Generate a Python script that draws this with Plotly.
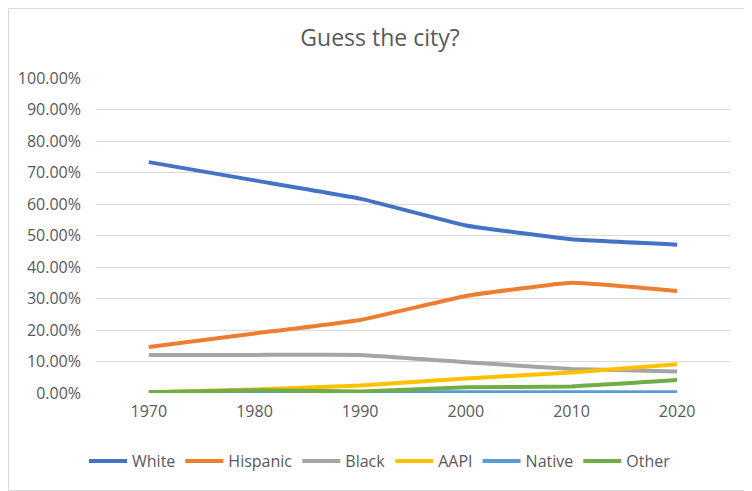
import plotly.graph_objects as go

years = ["1970", "1980", "1990", "2000", "2010", "2020"]
white = [0.733, 0.675, 0.617, 0.532, 0.488, 0.471]
hispanic = [0.146, 0.189, 0.232, 0.308, 0.350, 0.324]
black = [0.121, 0.121, 0.121, 0.098, 0.076, 0.068]
aapi = [0.002, 0.011, 0.024, 0.046, 0.065, 0.091]
native = [0.002, 0.002, 0.002, 0.002, 0.002, 0.002]
other = [0.002, 0.009, 0.005, 0.018, 0.021, 0.041]

series = [
    ("White", white, "#4472C4"),
    ("Hispanic", hispanic, "#ED7D31"),
    ("Black", black, "#A5A5A5"),
    ("AAPI", aapi, "#FFC000"),
    ("Native", native, "#5B9BD5"),
    ("Other", other, "#70AD47"),
]

FONT = "Open Sans, Noto Sans, sans-serif"

fig = go.Figure()
for name, vals, col in series:
    fig.add_trace(go.Scatter(
        x=years, y=vals, name=name, mode="lines",
        line=dict(color=col, width=4, shape="spline", smoothing=0.3),
    ))

# page body has an 8px margin, so the figure is drawn at (8, 8)
W, H = 744, 483
L, R, T, B = 88, 22, 70, 98
pw, ph = W - L - R, H - T - B

fig.update_layout(
    width=W, height=H,
    margin=dict(l=L, r=R, t=T, b=B, autoexpand=False),
    paper_bgcolor="white", plot_bgcolor="white",
    font=dict(family=FONT, color="#595959", size=16),
    title=dict(text="Guess the city?", x=0.5, xanchor="center", y=1 - 30 / H,
               yanchor="middle", font=dict(size=23, color="#595959", family=FONT)),
    showlegend=True,
    legend=dict(orientation="h", x=(372 - L) / pw, xanchor="center",
                y=(T + ph - 453) / ph, yanchor="middle",
                font=dict(size=16, color="#595959"), itemwidth=38,
                tracegroupgap=0),
    xaxis=dict(type="category", range=[-0.5, 5.5], showgrid=False,
               showline=False, ticks="", zeroline=False, ticklabelstandoff=7,
               tickfont=dict(size=16, color="#595959")),
    yaxis=dict(range=[0, 1], dtick=0.1, tickformat=".2%", showgrid=True,
               gridcolor="#D9D9D9", gridwidth=1, zeroline=False,
               showline=False, ticks="", ticklabelstandoff=14,
               tickfont=dict(size=16, color="#595959")),
    shapes=[dict(type="rect", xref="paper", yref="paper",
                 x0=(0.5 - L) / pw, x1=(W - 0.5 - L) / pw,
                 y0=-(B - 0.5) / ph, y1=1 + (T - 0.5) / ph,
                 line=dict(color="#D9D9D9", width=1), layer="below")],
)

fig.write_html("out.html")
